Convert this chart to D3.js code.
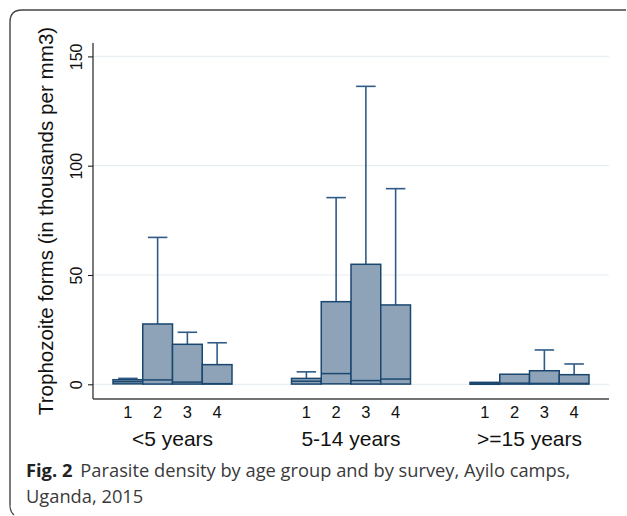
<!DOCTYPE html>
<html><head><meta charset="utf-8">
<script src="https://cdn.jsdelivr.net/npm/d3@7"></script>
<style>body{margin:0;background:#fff;} svg{display:block;}</style>
</head><body>
<svg id="c" width="627" height="516"></svg>
<script>
const groups = ["<5 years", "5-14 years", ">=15 years"];
const surveys = ["1", "2", "3", "4"];
// per group, per survey (thousands per mm3)
const q1Vals     = [[0.2, 0.1, 0.1, 0.1], [0.1, 0.2, 0.1, 0.1], [0.0, 0.1, 0.1, 0.1]];
const medianVals = [[1.2, 2.0, 1.0, 0.3], [1.4, 4.9, 1.7, 2.4], [0.3, 0.5, 0.4, 0.4]];
const q3Vals     = [[2.1, 27.6, 18.3, 9.0], [2.7, 37.8, 54.9, 36.3], [0.9, 4.6, 6.2, 4.4]];
const upperVals  = [[2.7, 67.2, 23.8, 19.0], [5.7, 85.4, 136.3, 89.5], [0.9, 4.6, 15.7, 9.3]];
const lowerVals  = [[0.0, 0.0, 0.0, 0.0], [0.0, 0.0, 0.0, 0.0], [0.0, 0.0, 0.0, 0.0]];
const yTicks = [0, 50, 100, 150];
const yTitle = "Trophozoite forms (in thousands per mm3)";
const captionBold = "Fig. 2";
const captionLine1 = "Parasite density by age group and by survey, Ayilo camps,";
const captionLine2 = "Uganda, 2015";

const svg = d3.select("#c");

// frame
svg.append("path")
  .attr("d", "M10,505 L10,22 Q10,10 22,10 L626,10")
  .attr("fill", "none").attr("stroke", "#444").attr("stroke-width", 1.4);
svg.append("path")
  .attr("d", "M10,505 Q10,512 14,515")
  .attr("fill", "none").attr("stroke", "#444").attr("stroke-width", 1.2);

const plotL = 93, plotR = 609, plotT = 43, plotB = 399;
const y = d3.scaleLinear().domain([0, 150]).range([384.3, 56.4]);
const xg = d3.scaleBand().domain(groups).range([113, 589]).paddingInner(1/3).paddingOuter(0);
const xs = d3.scaleBand().domain(surveys).range([0, xg.bandwidth()]).padding(0);

// grid
svg.append("g").selectAll("line").data(yTicks).join("line")
  .attr("x1", plotL).attr("x2", plotR)
  .attr("y1", d => y(d)).attr("y2", d => y(d))
  .attr("stroke", "#e6eef1").attr("stroke-width", 1.2);

// y axis
const yAxis = svg.append("g").attr("transform", `translate(${plotL},0)`)
  .call(d3.axisLeft(y).tickValues(yTicks).tickSize(5).tickSizeOuter(0).tickFormat(d3.format("d")));
yAxis.select(".domain").attr("d", `M0,${plotT}V${plotB}`).attr("stroke", "#222").attr("stroke-width", 1.2);
yAxis.selectAll(".tick line").attr("stroke", "#222").attr("stroke-width", 1.1);
yAxis.selectAll(".tick text")
  .attr("x", 0).attr("y", 0).attr("dy", null)
  .attr("transform", "translate(-11,0) rotate(-90)")
  .attr("text-anchor", "middle")
  .attr("font-family", "Liberation Sans, Arial, sans-serif").attr("font-size", 16).attr("fill", "#111");

// x axis line
svg.append("line").attr("x1", plotL).attr("x2", plotR).attr("y1", plotB).attr("y2", plotB)
  .attr("stroke", "#444").attr("stroke-width", 1.4);

// y title
svg.append("text")
  .attr("transform", `translate(53,${(plotT + plotB) / 2}) rotate(-90)`)
  .attr("text-anchor", "middle")
  .attr("font-family", "Liberation Sans, Arial, sans-serif").attr("font-size", 20.6).attr("fill", "#111")
  .text(yTitle);

// boxes
const boxes = [];
groups.forEach((g, gi) => surveys.forEach((s, si) => boxes.push({
  g, s, q1: q1Vals[gi][si], med: medianVals[gi][si], q3: q3Vals[gi][si],
  hi: upperVals[gi][si], lo: lowerVals[gi][si]
})));
const boxG = svg.append("g");
const cx = d => xg(d.g) + xs(d.s) + xs.bandwidth() / 2;
const capW = 19.5;
const wColor = "#2f5b86";
const bColor = "#1a476f";

boxG.selectAll(".wu").data(boxes).join("line")
  .attr("x1", cx).attr("x2", cx).attr("y1", d => y(d.q3)).attr("y2", d => y(d.hi))
  .attr("stroke", wColor).attr("stroke-width", 1.6);
boxG.selectAll(".cu").data(boxes.filter(d => d.hi > d.q3)).join("line")
  .attr("x1", d => cx(d) - capW / 2).attr("x2", d => cx(d) + capW / 2)
  .attr("y1", d => y(d.hi)).attr("y2", d => y(d.hi))
  .attr("stroke", wColor).attr("stroke-width", 1.6);
boxG.selectAll("rect").data(boxes).join("rect")
  .attr("x", d => xg(d.g) + xs(d.s)).attr("width", xs.bandwidth())
  .attr("y", d => y(d.q3)).attr("height", d => Math.max(0.5, y(d.q1) - y(d.q3)))
  .attr("fill", "#8ea3b7").attr("stroke", bColor).attr("stroke-width", 1.5);
boxG.selectAll(".med").data(boxes).join("line")
  .attr("x1", d => xg(d.g) + xs(d.s)).attr("x2", d => xg(d.g) + xs(d.s) + xs.bandwidth())
  .attr("y1", d => y(d.med)).attr("y2", d => y(d.med))
  .attr("stroke", bColor).attr("stroke-width", 1.5);

// x labels
svg.append("g").selectAll("text").data(boxes).join("text")
  .attr("x", cx).attr("y", 418)
  .attr("text-anchor", "middle")
  .attr("font-family", "Liberation Sans, Arial, sans-serif").attr("font-size", 16.5).attr("fill", "#111")
  .text(d => d.s);
svg.append("g").selectAll("text").data(groups).join("text")
  .attr("x", d => xg(d) + xg.bandwidth() / 2).attr("y", 446)
  .attr("text-anchor", "middle")
  .attr("font-family", "Liberation Sans, Arial, sans-serif").attr("font-size", 21).attr("fill", "#111")
  .text(d => d);

// caption
const cap = svg.append("text").attr("x", 26).attr("y", 477)
  .attr("font-family", "Open Sans, Noto Sans, sans-serif").attr("font-size", 18.3).attr("fill", "#3a3a3a");
cap.append("tspan").attr("font-weight", "bold").attr("fill", "#222").text(captionBold);
cap.append("tspan").attr("dx", 8).text(captionLine1);
svg.append("text").attr("x", 26).attr("y", 503)
  .attr("font-family", "Open Sans, Noto Sans, sans-serif").attr("font-size", 18.3).attr("fill", "#3a3a3a")
  .text(captionLine2);
</script>
</body></html>
